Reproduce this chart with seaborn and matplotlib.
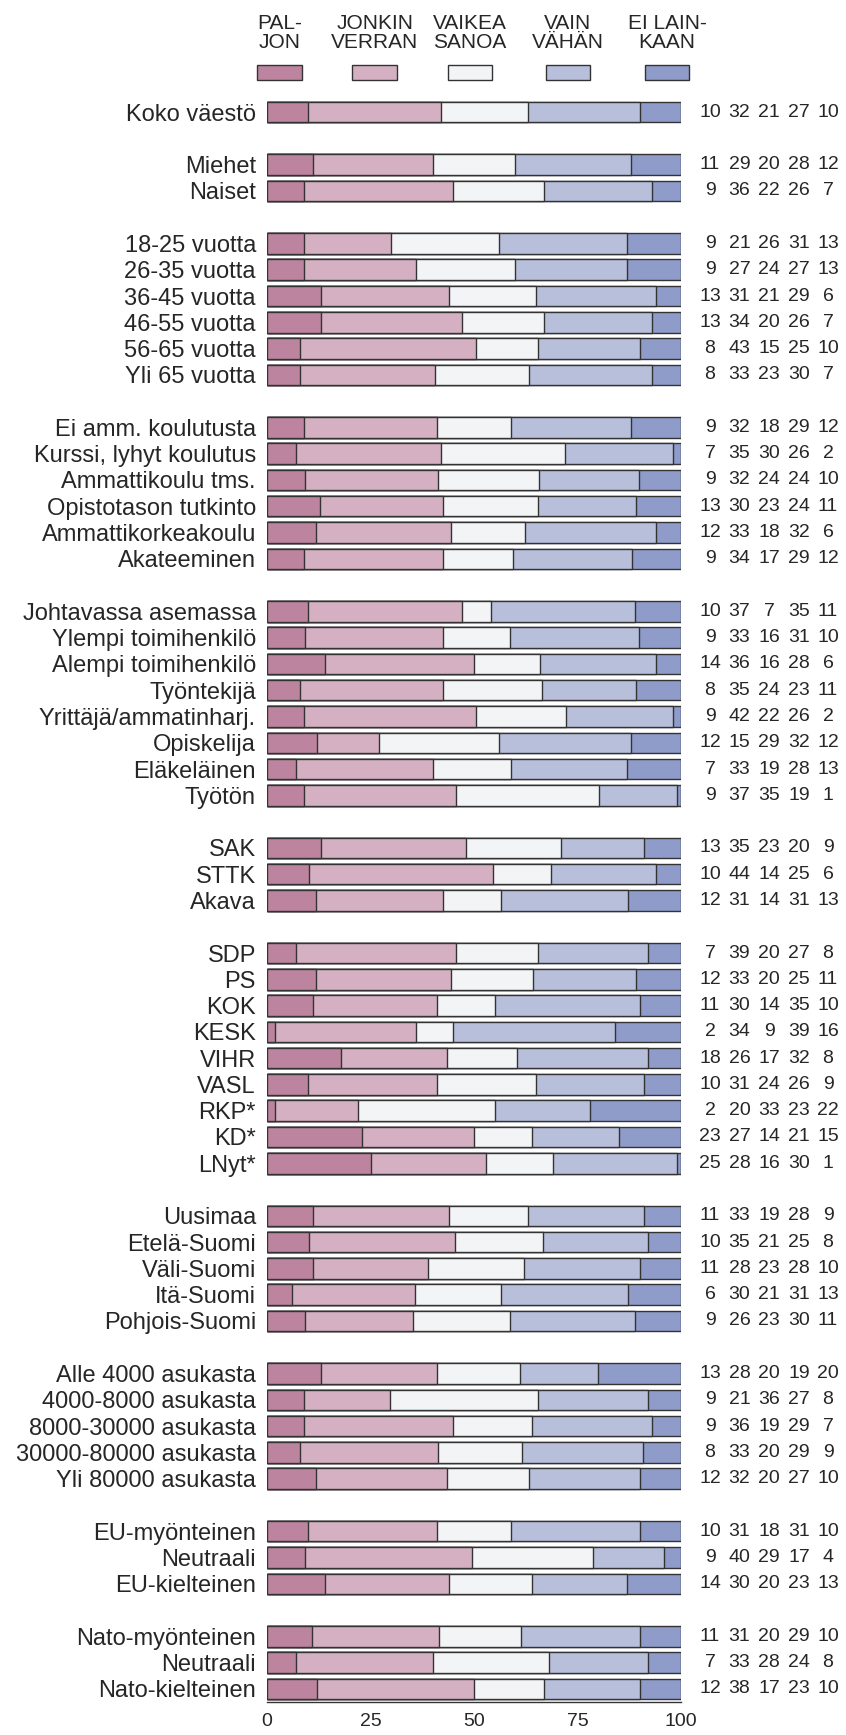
import numpy as np
import pandas as pd
import matplotlib.pyplot as plt
import matplotlib.transforms as mtransforms
from matplotlib.patches import Rectangle
import seaborn as sns

# === Data ===
labels = [
    "Koko väestö",
    "Miehet", "Naiset",
    "18-25 vuotta", "26-35 vuotta", "36-45 vuotta", "46-55 vuotta", "56-65 vuotta", "Yli 65 vuotta",
    "Ei amm. koulutusta", "Kurssi, lyhyt koulutus", "Ammattikoulu tms.", "Opistotason tutkinto",
    "Ammattikorkeakoulu", "Akateeminen",
    "Johtavassa asemassa", "Ylempi toimihenkilö", "Alempi toimihenkilö", "Työntekijä",
    "Yrittäjä/ammatinharj.", "Opiskelija", "Eläkeläinen", "Työtön",
    "SAK", "STTK", "Akava",
    "SDP", "PS", "KOK", "KESK", "VIHR", "VASL", "RKP*", "KD*", "LNyt*",
    "Uusimaa", "Etelä-Suomi", "Väli-Suomi", "Itä-Suomi", "Pohjois-Suomi",
    "Alle 4000 asukasta", "4000-8000 asukasta", "8000-30000 asukasta", "30000-80000 asukasta", "Yli 80000 asukasta",
    "EU-myönteinen", "Neutraali", "EU-kielteinen",
    "Nato-myönteinen", "Neutraali", "Nato-kielteinen",
]
group_sizes = [1, 2, 6, 6, 8, 3, 9, 5, 5, 3, 3]

paljon = [10, 11, 9, 9, 9, 13, 13, 8, 8, 9, 7, 9, 13, 12, 9, 10, 9, 14, 8, 9, 12, 7, 9,
          13, 10, 12, 7, 12, 11, 2, 18, 10, 2, 23, 25, 11, 10, 11, 6, 9,
          13, 9, 9, 8, 12, 10, 9, 14, 11, 7, 12]
jonkin = [32, 29, 36, 21, 27, 31, 34, 43, 33, 32, 35, 32, 30, 33, 34, 37, 33, 36, 35, 42, 15, 33, 37,
          35, 44, 31, 39, 33, 30, 34, 26, 31, 20, 27, 28, 33, 35, 28, 30, 26,
          28, 21, 36, 33, 32, 31, 40, 30, 31, 33, 38]
vaikea = [21, 20, 22, 26, 24, 21, 20, 15, 23, 18, 30, 24, 23, 18, 17, 7, 16, 16, 24, 22, 29, 19, 35,
          23, 14, 14, 20, 20, 14, 9, 17, 24, 33, 14, 16, 19, 21, 23, 21, 23,
          20, 36, 19, 20, 20, 18, 29, 20, 20, 28, 17]
vain = [27, 28, 26, 31, 27, 29, 26, 25, 30, 29, 26, 24, 24, 32, 29, 35, 31, 28, 23, 26, 32, 28, 19,
        20, 25, 31, 27, 25, 35, 39, 32, 26, 23, 21, 30, 28, 25, 28, 31, 30,
        19, 27, 29, 29, 27, 31, 17, 23, 29, 24, 23]
ei_lainkaan = [10, 12, 7, 13, 13, 6, 7, 10, 7, 12, 2, 10, 11, 6, 12, 11, 10, 6, 11, 2, 12, 13, 1,
               9, 6, 13, 8, 11, 10, 16, 8, 9, 22, 15, 1, 9, 8, 10, 13, 11,
               20, 8, 7, 9, 10, 10, 4, 13, 10, 8, 10]

categories = ["PAL-\nJON", "JONKIN\nVERRAN", "VAIKEA\nSANOA", "VAIN\nVÄHÄN", "EI LAIN-\nKAAN"]
colors = ["#BD84A0", "#D5B0C3", "#F3F4F6", "#B7BFDB", "#8F9BC8"]
edge = "#333333"

# === Row positions with a blank row between groups ===
pos = []
p = 0
for n in group_sizes:
    pos.extend(range(p, p + n))
    p += n + 1

df = pd.DataFrame({"label": labels, "pos": pos, "p1": paljon, "p2": jonkin,
                   "p3": vaikea, "p4": vain, "p5": ei_lainkaan})
shares = df[["p1", "p2", "p3", "p4", "p5"]].to_numpy(float)
cum = shares.cumsum(axis=1) / shares.sum(axis=1, keepdims=True) * 100

# === Plot ===
sns.set_style("white")
plt.rcParams["font.family"] = ["Liberation Sans", "DejaVu Sans"]

fig = plt.figure(figsize=(8.46, 17.35), dpi=100)
ax = fig.add_axes([0.3156, 0.0190, 0.4894, 0.9240])

for i in range(4, -1, -1):
    sns.barplot(x=cum[:, i], y=df["pos"], orient="h", native_scale=True,
                color=colors[i], saturation=1, edgecolor=edge, linewidth=1,
                width=0.78, ax=ax)

ax.set_xlim(0, 100)
ax.set_ylim(max(pos) + 0.5, -0.5)
ax.set_xticks([0, 25, 50, 75, 100])
ax.set_yticks(df["pos"])
ax.set_yticklabels(df["label"], fontsize=17)
ax.set_xlabel("")
ax.set_ylabel("")
ax.tick_params(axis="y", length=0, pad=8)
ax.tick_params(axis="x", length=6, width=1, color=edge, labelsize=14, pad=2)
sns.despine(ax=ax, left=True)
ax.spines["bottom"].set_color(edge)
ax.spines["bottom"].set_linewidth(1)

# numbers on the right
num_x = [107, 114.1, 121.3, 128.5, 135.5]
for _, row in df.iterrows():
    for j, col in enumerate(["p1", "p2", "p3", "p4", "p5"]):
        ax.text(num_x[j], row["pos"], str(row[col]), ha="center", va="center",
                fontsize=14, clip_on=False)

# legend on top
trans = mtransforms.blended_transform_factory(ax.transData, fig.transFigure)
leg_x = [3.1, 26, 49, 72.7, 96.6]
for name, c, x in zip(categories, colors, leg_x):
    ax.add_patch(Rectangle((x - 5.4, 1 - 80 / 1735), 10.8, 15 / 1735, transform=trans,
                           facecolor=c, edgecolor=edge, linewidth=1, clip_on=False))
    ax.text(x, 1 - 14 / 1735, name, transform=trans, ha="center", va="top",
            fontsize=15, linespacing=1.0, clip_on=False)

fig.savefig("out.png", dpi=100)
plt.close(fig)
